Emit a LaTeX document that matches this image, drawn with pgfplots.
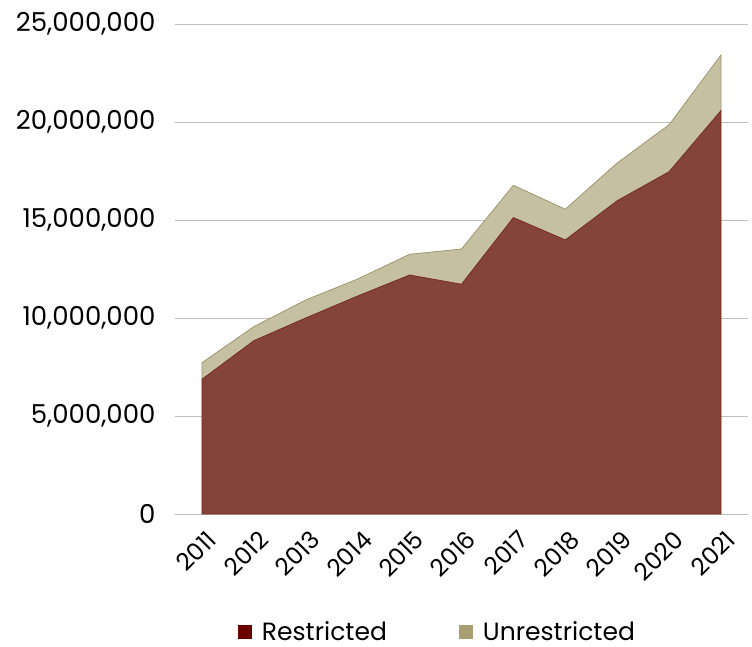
\documentclass[border=0pt]{standalone}
\usepackage{pgfplots}
\pgfplotsset{compat=1.18}
\usepackage{fontspec}
\setmainfont{Poppins}
\definecolor{rfill}{RGB}{132,68,58}
\definecolor{rline}{RGB}{122,45,33}
\definecolor{ufill}{RGB}{197,192,161}
\definecolor{uline}{RGB}{158,151,110}
\definecolor{rleg}{RGB}{107,0,0}
\definecolor{uleg}{RGB}{168,158,115}
\definecolor{gridc}{RGB}{191,191,191}
\begin{document}
\begin{tikzpicture}
\begin{axis}[
  scale only axis,
  width=573pt, height=490pt,
  xmin=-0.52, xmax=10.52,
  ymin=0, ymax=25000000,
  stack plots=y,
  xtick={0,...,10},
  xticklabels={2011,2012,2013,2014,2015,2016,2017,2018,2019,2020,2021},
  ytick={0,5000000,10000000,15000000,20000000,25000000},
  scaled y ticks=false,
  /pgf/number format/.cd, fixed, 1000 sep={,}, assume math mode=true,
  /pgfplots/.cd,
  yticklabel style={font=\fontsize{26}{29}\selectfont, text=black, xshift=-16pt},
  xticklabel style={font=\fontsize{24}{27}\selectfont, rotate=45, anchor=north east, inner sep=0pt, xshift=-8pt, yshift=-13pt},
  major tick length=0pt,
  axis y line*=left,
  y axis line style={draw=none},
  axis x line*=bottom,
  x axis line style={draw=gridc, -},
  ymajorgrids,
  grid style={draw=gridc, line width=0.8pt},
  legend columns=2,
  legend style={at={(0.458,-0.241)}, anchor=center, draw=none, font=\fontsize{25}{28}\selectfont,
    /tikz/every even column/.append style={column sep=70pt},
    legend image code/.code={\fill[#1] (0pt,-7pt) rectangle (14pt,7pt); \path (22pt,0pt);}},
  legend cell align=left,
  clip=false,
]
\addplot[fill=rfill, draw=rline, line width=0.8pt, forget plot] coordinates {
 (0,6870000) (1,8840000) (2,10000000) (3,11120000) (4,12190000) (5,11720000)
 (6,15120000) (7,13980000) (8,15980000) (9,17460000) (10,20580000)} \closedcycle;
\addplot[fill=ufill, draw=uline, line width=0.8pt, forget plot] coordinates {
 (0,850000) (1,720000) (2,920000) (3,870000) (4,1060000) (5,1800000)
 (6,1650000) (7,1570000) (8,1930000) (9,2400000) (10,2840000)} \closedcycle;
\addlegendimage{fill=rleg, draw=none}
\addlegendentry{Restricted}
\addlegendimage{fill=uleg, draw=none}
\addlegendentry{Unrestricted}
\end{axis}
\useasboundingbox (-175pt,-131pt) rectangle (577pt,514pt);
\end{tikzpicture}
\end{document}
